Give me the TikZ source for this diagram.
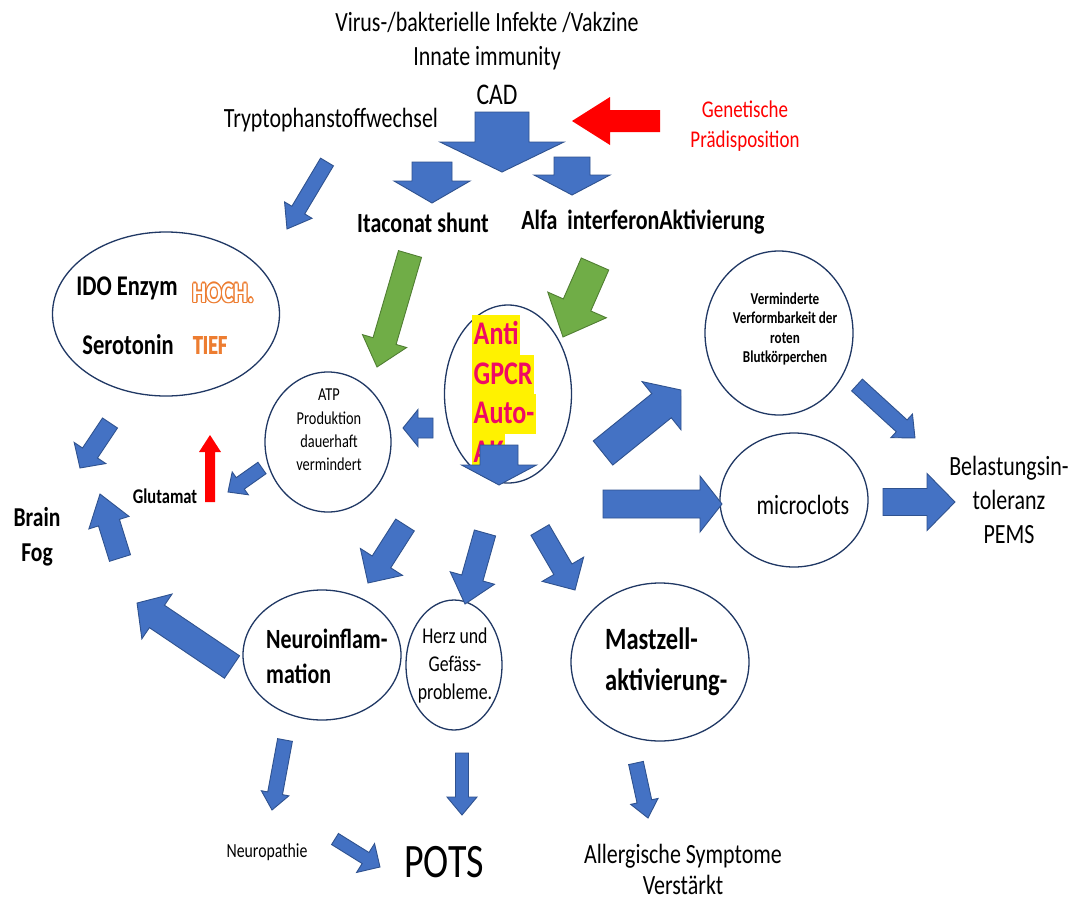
\documentclass[tikz,border=0pt]{standalone}
\usepackage{fontspec}
\setmainfont{Carlito}[FakeStretch=0.79]
\newfontfamily\heavyfont{Carlito}[FakeStretch=0.74,FakeBold=1.6]
\usetikzlibrary{shapes.geometric,calc}
\definecolor{arrowblue}{RGB}{68,114,196}
\definecolor{arrowedge}{RGB}{47,82,143}
\definecolor{arrowgreen}{RGB}{112,173,71}
\definecolor{greenedge}{RGB}{80,126,50}
\definecolor{bubbleline}{RGB}{32,56,100}
\definecolor{hotpink}{RGB}{240,10,100}
\definecolor{hochorange}{RGB}{237,125,49}
\newcommand\blockarrow[8][blk]{%
  \pgfmathsetmacro\baang{atan2(#3-(#5),#4-(#2))}%
  \pgfmathsetmacro\balen{veclen(#4-(#2),#5-(#3))}%
  \pgfmathsetmacro\babase{\balen-(#8)}%
  \draw[#1,shift={(#2,#3)},rotate=\baang] (0,-#6) -- (\babase,-#6) -- (\babase,-#7) -- (\balen,0) -- (\babase,#7) -- (\babase,#6) -- (0,#6) -- cycle;%
}
\tikzset{
  blk/.style={fill=arrowblue, draw=arrowedge, line width=0.9},
  grn/.style={fill=arrowgreen, draw=greenedge, line width=0.9},
  redarr/.style={fill=red, draw=none},
  bubble/.style={ellipse, draw=bubbleline, line width=1.3, fill=none},
  txt/.style={font=\fontsize{27.8}{34}\selectfont},
  boldtxt/.style={font=\bfseries\fontsize{27.8}{34}\selectfont},
  hl/.style={fill=yellow, text=hotpink, font=\bfseries\fontsize{33}{33}\selectfont, inner xsep=1.5, inner ysep=0, text height=29, text depth=11, anchor=north west},
  hochtxt/.style={font=\bfseries\fontsize{28.5}{30}\selectfont}
}
\begin{document}
\begin{tikzpicture}[x=1pt,y=-1pt, every node/.style={inner sep=0}]
\useasboundingbox (0,0) rectangle (1080,900);
\fill[white] (0,0) rectangle (1080,900);

% ---------- top texts ----------
\node[txt] (virus) at (487,22) {Virus-/bakterielle Infekte /Vakzine};
\node[txt] (innate) at (487,58) {Innate immunity};
\node[font=\fontsize{30}{34}\selectfont] (cad) at (497,95) {CAD};
\node[txt] (trypto) at (331,120) {Tryptophanstoffwechsel};
\node[text=red, align=center, font=\fontsize{24}{30}\selectfont] (genet) at (745,126) {Genetische\\Prädisposition};
\node[boldtxt] (itac) at (423,223) {Itaconat shunt};
\node[boldtxt] (alfa) at (643,222) {Alfa\ \ interferonAktivierung};

% top arrows
\blockarrow{502}{112}{502}{172}{27}{62}{30}
\blockarrow{432}{162}{432}{203}{20}{38}{22}
\blockarrow{572}{157}{572}{195}{18}{38}{20}
\blockarrow[redarr]{660}{121}{572}{121}{11}{24}{38}
\blockarrow{327}{162}{287}{229}{7.5}{16}{22}

% ---------- IDO ellipse ----------
\node[bubble, minimum width=227, minimum height=164] (ido) at (166,314) {};
\node[font=\bfseries\fontsize{28.5}{32}\selectfont] (idoenz) at (127,288) {IDO Enzym};
\node[font=\bfseries\fontsize{28.5}{32}\selectfont] (sero) at (128,345) {Serotonin};
\foreach \a in {0,45,...,315}{
  \node[hochtxt, text=hochorange] (hochshade\a) at ($(223,293)+(\a:1.3pt)$) {HOCH.};
}
\node[hochtxt, text=white] (hoch) at (223,293) {HOCH.};
\node[font=\heavyfont\bfseries\fontsize{27}{30}\selectfont, text=hochorange] (tief) at (210,345) {TIEF};

% ---------- green arrows ----------
\blockarrow[grn]{410}{254}{377}{367}{12}{23}{27}
\blockarrow[grn]{595}{264}{563}{337}{15}{32}{35}

% ---------- ATP circle ----------
\node[bubble, minimum width=126, minimum height=140] (atp) at (328,442) {};
\node[align=center, font=\fontsize{18.2}{23.3}\selectfont] (atptext) at (329,430) {ATP\\Produktion\\dauerhaft\\vermindert};

% ---------- centre ellipse ----------
\node[bubble, minimum width=127, minimum height=178] (gpcr) at (508,394) {};
\node[hl] (lanti) at (472,315) {Anti};
\node[hl] (lgpcr) at (472,355) {GPCR};
\node[hl] (lauto) at (472,394) {Auto-};
\begin{scope}
  \clip (440,420) rectangle (580,467);
  \node[hl] (lak) at (472,433) {AK};
\end{scope}
\blockarrow{499}{445}{499}{485}{19}{37.5}{20}
\blockarrow{433}{428}{403}{428}{10}{18.5}{15}

% ---------- left side ----------
\node[align=center, font=\bfseries\fontsize{27.3}{35}\selectfont] (brain) at (37,537) {Brain\\Fog};
\node[font=\bfseries\fontsize{20.9}{24}\selectfont] (glut) at (165,496) {Glutamat};
\blockarrow[redarr]{210}{502}{210}{435}{5}{11}{17}
\blockarrow{262}{468}{228}{492}{7}{14}{15}
\blockarrow{110}{423}{80}{468}{9}{19}{18}
\blockarrow{120}{558}{100}{494}{11}{21}{30}
\blockarrow{232}{667}{137}{603}{13.5}{27}{24}

% ---------- right side ----------
\node[bubble, minimum width=148, minimum height=164] (verm) at (779,333) {};
\node[align=center, font=\bfseries\fontsize{16.6}{19.5}\selectfont] (vermtext) at (785,329) {Verminderte\\Verformbarkeit der\\roten\\Blutkörperchen};
\node[bubble, minimum width=148, minimum height=134] (micro) at (794,500) {};
\node[txt] (microtext) at (803,505) {microclots};
\node[align=center, font=\fontsize{27.8}{34}\selectfont] (pems) at (1009,500) {Belastungsin-\\toleranz\\PEMS};
\blockarrow{603}{453}{681}{390}{15.5}{31}{25}
\blockarrow{603}{504}{722}{504}{14}{28}{22}
\blockarrow{857}{385}{915}{438}{8}{16}{18}
\blockarrow{883}{502}{955}{502}{13.5}{28.5}{28}

% ---------- lower row ----------
\node[bubble, minimum width=158, minimum height=130] (neuro) at (322,655) {};
\node[align=left, anchor=west, font=\bfseries\fontsize{27.8}{35}\selectfont] (neurotext) at (266,656) {Neuroinflam-\\mation};
\node[bubble, minimum width=96, minimum height=130] (herz) at (454,665) {};
\node[align=center, font=\fontsize{22.5}{28}\selectfont] (herztext) at (455,665) {Herz und\\Gefäss-\\probleme.};
\node[bubble, minimum width=178, minimum height=158] (mast) at (660,662) {};
\node[align=left, anchor=west, font=\bfseries\fontsize{31}{41}\selectfont] (masttext) at (605,662) {Mastzell-\\aktivierung-};
\blockarrow{405}{525}{368}{583}{11}{25}{25}
\blockarrow{485}{533}{465}{604}{11}{23}{27}
\blockarrow{540}{530}{575}{590}{10.5}{24}{24}

% ---------- bottom ----------
\node[font=\fontsize{20}{24}\selectfont] (neuropathie) at (267,852) {Neuropathie};
\node[font=\fontsize{48}{52}\selectfont] (pots) at (444,862) {POTS};
\node[align=center, font=\fontsize{27.8}{31}\selectfont] (allerg) at (683,869) {Allergische Symptome\\Verstärkt};
\blockarrow{285}{740}{272}{810}{7.5}{14}{17}
\blockarrow{462}{753}{462}{815}{6.5}{15}{18}
\blockarrow{636}{763}{648}{818}{7.5}{14}{17}
\blockarrow{335}{839}{380}{867}{6.5}{17}{17}
\end{tikzpicture}
\end{document}
